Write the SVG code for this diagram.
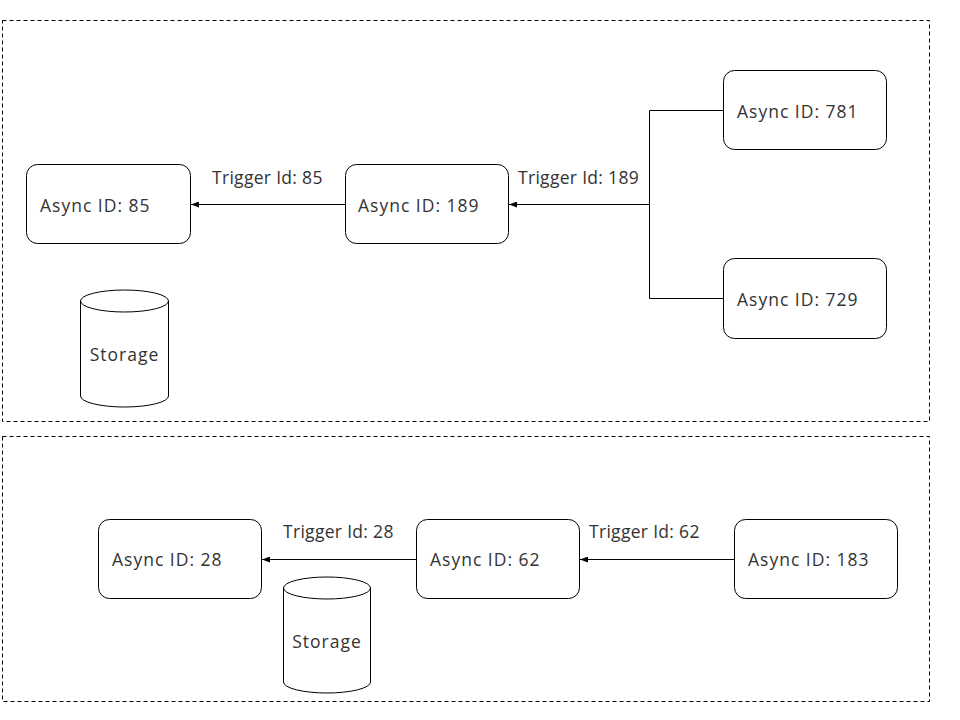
<svg xmlns="http://www.w3.org/2000/svg" width="960" height="720" viewBox="0 0 960 720">
<defs>
<style>
.box{fill:#fff;stroke:#000;stroke-width:1}
.frame{fill:none;stroke:#000;stroke-width:1;stroke-dasharray:4 3}
.edge{fill:none;stroke:#000;stroke-width:1}
text{font-family:"Open Sans","Lato",sans-serif;font-size:17.5px;font-weight:400;letter-spacing:1px;fill:#333}
text.lbl{letter-spacing:0.3px}
</style>
<marker id="arr" viewBox="0 0 8 6" refX="8" refY="3" markerWidth="8" markerHeight="6" markerUnits="userSpaceOnUse" orient="auto">
<path d="M0,0 L8,3 L0,6 Z" fill="#000"/>
</marker>
</defs>
<rect width="960" height="720" fill="#fff"/>
<rect class="frame" x="2.5" y="20.5" width="927" height="401"/>
<rect class="frame" x="2.5" y="436.5" width="927" height="265"/>
<g id="connectors">
<path class="edge" d="M345,204.5 H191" marker-end="url(#arr)"/>
<path class="edge" d="M723,110.5 H649.5 V298.5 H723"/>
<path class="edge" d="M649.5,204.5 H509" marker-end="url(#arr)"/>
<path class="edge" d="M416,559.5 H262" marker-end="url(#arr)"/>
<path class="edge" d="M734,559.5 H580" marker-end="url(#arr)"/>
<text class="lbl" x="212" y="184">Trigger Id: 85</text>
<text class="lbl" x="518" y="184">Trigger Id: 189</text>
<text class="lbl" x="283" y="538">Trigger Id: 28</text>
<text class="lbl" x="589" y="538">Trigger Id: 62</text>
</g>
<g id="n85"><rect class="box" x="26.5" y="164.5" width="164" height="79" rx="11"/><text x="40" y="212">Async ID: 85</text></g>
<g id="n189"><rect class="box" x="345.5" y="164.5" width="163" height="79" rx="11"/><text x="358" y="212">Async ID: 189</text></g>
<g id="n781"><rect class="box" x="723.5" y="70.5" width="163" height="79" rx="11"/><text x="737" y="118">Async ID: 781</text></g>
<g id="n729"><rect class="box" x="723.5" y="258.5" width="163" height="80" rx="11"/><text x="737" y="306">Async ID: 729</text></g>
<g id="storage1">
<path class="box" d="M80.5,301 A44,11 0 0 1 168.5,301 V396 A44,11 0 0 1 80.5,396 Z"/>
<path class="edge" d="M80.5,301 A44,11 0 0 0 168.5,301"/>
<text x="124.5" y="361" text-anchor="middle">Storage</text>
</g>
<g id="n28"><rect class="box" x="98.5" y="519.5" width="163" height="79" rx="11"/><text x="112" y="566">Async ID: 28</text></g>
<g id="n62"><rect class="box" x="416.5" y="519.5" width="163" height="79" rx="11"/><text x="430" y="566">Async ID: 62</text></g>
<g id="n183"><rect class="box" x="734.5" y="519.5" width="163" height="79" rx="11"/><text x="748" y="566">Async ID: 183</text></g>
<g id="storage2">
<path class="box" d="M283.5,588 A43.5,11 0 0 1 370.5,588 V682 A43.5,11 0 0 1 283.5,682 Z"/>
<path class="edge" d="M283.5,588 A43.5,11 0 0 0 370.5,588"/>
<text x="327" y="648" text-anchor="middle">Storage</text>
</g>
</svg>
